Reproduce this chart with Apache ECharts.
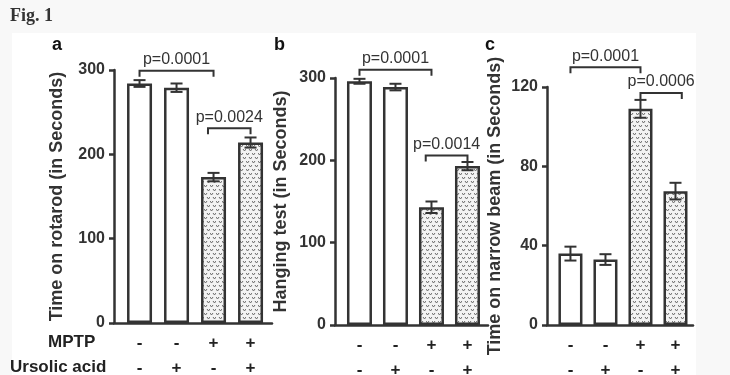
<!DOCTYPE html>
<html>
<head>
<meta charset="UTF-8">
<script src="https://cdn.jsdelivr.net/npm/echarts@6/dist/echarts.min.js"></script>
<style>
  html, body { margin: 0; padding: 0; background: #f8f8f8; }
  #main { width: 730px; height: 375px; }
</style>
</head>
<body>
<div id="main"></div>
<script>
var groups = [0, 1, 2, 3];
var mptp = ['-', '-', '+', '+'];
var ursolic = ['-', '+', '-', '+'];

var rotarodMean = [284, 279, 173, 214];
var rotarodErr = [4, 5, 5, 6];
var hangingMean = [296, 289, 143, 193];
var hangingErr = [3, 4, 7, 5];
var beamMean = [36, 33, 109, 67.5];
var beamErr = [3.5, 2.7, 4.5, 4.2];

// brackets: [from group, to group, height]
var rotarodBr = [[0, 2, 299], [1.85, 3, 231]];
var rotarodPv = ['p=0.0001', 'p=0.0024'];
var hangingBr = [[0, 2, 310], [1.84, 3, 206]];
var hangingPv = ['p=0.0001', 'p=0.0014'];
var beamBr = [[0, 2, 130], [2, 3.18, 117]];
var beamPv = ['p=0.0001', 'p=0.0006'];

var ink = '#333';
var sans = '"Liberation Sans", Arial, sans-serif';

// dotted "v" fill of the MPTP bars
function makePattern() {
  var c = document.createElement('canvas');
  c.width = 6; c.height = 8;
  var ctx = c.getContext('2d');
  ctx.fillStyle = '#f3f3f3';
  ctx.fillRect(0, 0, 6, 8);
  ctx.strokeStyle = '#6a6a6a';
  ctx.lineWidth = 1;
  function v(x, y) {
    ctx.beginPath();
    ctx.moveTo(x - 1.5, y - 1);
    ctx.lineTo(x, y + 1);
    ctx.lineTo(x + 1.5, y - 1);
    ctx.stroke();
  }
  v(1.5, 2); v(4.5, 6);
  return c;
}
var patternFill = { image: makePattern(), repeat: 'repeat' };

function xAxisCfg(idx, min, max) {
  return {
    type: 'value', gridIndex: idx, min: min, max: max,
    splitLine: { show: false }, axisTick: { show: false }, axisLabel: { show: false },
    axisLine: { show: true, onZero: false, lineStyle: { color: ink, width: 2.5 } }
  };
}

function yAxisCfg(idx, max, interval, name, gap) {
  return {
    type: 'value', gridIndex: idx, min: 0, max: max, interval: interval,
    name: name, nameLocation: 'middle', nameGap: gap,
    nameTextStyle: { color: ink, fontFamily: sans, fontWeight: 'bold', fontSize: 18 },
    axisLine: { show: true, onZero: false, lineStyle: { color: ink, width: 2.5 } },
    axisTick: { show: true, length: 5, lineStyle: { color: ink, width: 2.5 } },
    axisLabel: { margin: 9, color: ink, fontFamily: sans, fontWeight: 'bold', fontSize: 16 },
    splitLine: { show: false }
  };
}

function barSeries(idx, mean, width) {
  return {
    type: 'bar', xAxisIndex: idx, yAxisIndex: idx, barWidth: width,
    data: groups.map(function (g, i) {
      return { value: [g, mean[i]], itemStyle: { color: mptp[i] === '+' ? patternFill : '#fff' } };
    }),
    itemStyle: { borderColor: ink, borderWidth: 2.5 }
  };
}

function errorSeries(idx, mean, err) {
  return {
    type: 'custom', xAxisIndex: idx, yAxisIndex: idx, z: 10,
    data: groups.map(function (g, i) { return [g, mean[i] - err[i], mean[i] + err[i]]; }),
    renderItem: function (params, api) {
      var lo = api.coord([api.value(0), api.value(1)]);
      var hi = api.coord([api.value(0), api.value(2)]);
      var w = 6;
      var st = { stroke: ink, lineWidth: 2, fill: null };
      return {
        type: 'group', children: [
          { type: 'line', shape: { x1: lo[0], y1: lo[1], x2: hi[0], y2: hi[1] }, style: st },
          { type: 'line', shape: { x1: lo[0] - w, y1: lo[1], x2: lo[0] + w, y2: lo[1] }, style: st },
          { type: 'line', shape: { x1: hi[0] - w, y1: hi[1], x2: hi[0] + w, y2: hi[1] }, style: st }
        ]
      };
    }
  };
}

function bracketSeries(idx, br, labels) {
  return {
    type: 'custom', xAxisIndex: idx, yAxisIndex: idx, clip: false, z: 10,
    data: br,
    renderItem: function (params, api) {
      var a = api.coord([api.value(0), api.value(2)]);
      var b = api.coord([api.value(1), api.value(2)]);
      var d = 6;
      return {
        type: 'group', children: [
          { type: 'polyline', shape: { points: [[a[0], a[1] + d], [a[0], a[1]], [b[0], b[1]], [b[0], b[1] + d]] },
            style: { stroke: ink, lineWidth: 2, fill: null } },
          { type: 'text', style: { text: labels[params.dataIndex], x: (a[0] + b[0]) / 2, y: a[1] - 3,
            align: 'center', verticalAlign: 'bottom', font: '16px ' + sans, fill: ink } }
        ]
      };
    }
  };
}

function signSeries(idx) {
  return {
    type: 'custom', xAxisIndex: idx, yAxisIndex: idx, clip: false, silent: true,
    data: groups.map(function (g) { return [g, 0]; }),
    renderItem: function (params, api) {
      var p = api.coord([api.value(0), 0]);
      var i = params.dataIndex;
      var f = 'bold 17px ' + sans;
      return {
        type: 'group', children: [
          { type: 'text', style: { text: mptp[i], x: p[0], y: p[1] + 20, align: 'center', verticalAlign: 'middle', font: f, fill: '#222' } },
          { type: 'text', style: { text: ursolic[i], x: p[0], y: p[1] + 45, align: 'center', verticalAlign: 'middle', font: f, fill: '#222' } }
        ]
      };
    }
  };
}

var chart = echarts.init(document.getElementById('main'));
chart.setOption({
  animation: false,
  graphic: [
    { type: 'rect', z: -10, silent: true, shape: { x: 12, y: 33, width: 684, height: 342 }, style: { fill: '#fff' } },
    { type: 'text', left: 10, top: 7, style: { text: 'Fig. 1', font: 'bold 18px "Liberation Serif", Georgia, serif', fill: '#333' } },
    { type: 'text', left: 52, top: 36, style: { text: 'a', font: 'bold 18px ' + sans, fill: '#111' } },
    { type: 'text', left: 274, top: 36, style: { text: 'b', font: 'bold 18px ' + sans, fill: '#111' } },
    { type: 'text', left: 485, top: 36, style: { text: 'c', font: 'bold 18px ' + sans, fill: '#111' } },
    { type: 'text', left: 48, top: 334, style: { text: 'MPTP', font: 'bold 17px ' + sans, fill: '#222' } },
    { type: 'text', left: 10, top: 359, style: { text: 'Ursolic acid', font: 'bold 17px ' + sans, fill: '#222' } }
  ],
  grid: [
    { left: 114, top: 70, width: 158, height: 253 },
    { left: 335, top: 78, width: 153, height: 247 },
    { left: 547, top: 87, width: 146, height: 238 }
  ],
  xAxis: [
    xAxisCfg(0, -0.69, 3.58),
    xAxisCfg(1, -0.68, 3.57),
    xAxisCfg(2, -0.67, 3.5)
  ],
  yAxis: [
    yAxisCfg(0, 300, 100, 'Time on rotarod (in Seconds)', 48),
    yAxisCfg(1, 300, 100, 'Hanging test (in Seconds)', 45),
    yAxisCfg(2, 120, 40, 'Time on narrow beam (in Seconds)', 43)
  ],
  series: [
    barSeries(0, rotarodMean, 25), errorSeries(0, rotarodMean, rotarodErr), bracketSeries(0, rotarodBr, rotarodPv), signSeries(0),
    barSeries(1, hangingMean, 25), errorSeries(1, hangingMean, hangingErr), bracketSeries(1, hangingBr, hangingPv), signSeries(1),
    barSeries(2, beamMean, 24), errorSeries(2, beamMean, beamErr), bracketSeries(2, beamBr, beamPv), signSeries(2)
  ]
});
</script>
</body>
</html>
